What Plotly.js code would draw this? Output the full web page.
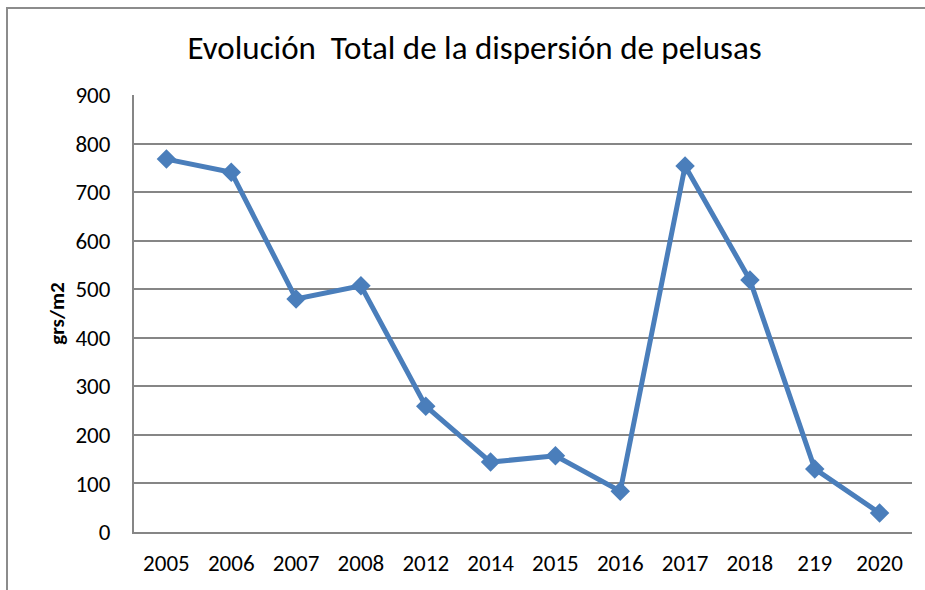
<!DOCTYPE html>
<html>
<head>
<meta charset="utf-8">
<script src="https://cdn.plot.ly/plotly-3.0.1.min.js"></script>
<style>
  html, body { margin: 0; padding: 0; background: #fff; overflow: hidden; }
  #wrap { position: relative; width: 925px; height: 590px; overflow: hidden; }
  #plotArea { width: 925px; height: 590px; }
  #frame { position: absolute; left: 6px; top: 7px; width: 919px; height: 583px;
           border-top: 2px solid #8c8c8c; border-left: 2px solid #8c8c8c;
           pointer-events: none; box-sizing: border-box; }
</style>
</head>
<body>
<div id="wrap">
  <div id="plotArea"></div>
  <div id="frame"></div>
</div>
<script>
// years as shown on the chart (the "219" label is in the original)
var years = ['2005', '2006', '2007', '2008', '2012', '2014', '2015', '2016', '2017', '2018', '219', '2020'];
var pelusas = [768, 741, 480, 507, 259, 144, 157, 84, 754, 519, 130, 39];
var yTicks = [0, 100, 200, 300, 400, 500, 600, 700, 800, 900];

var font = 'Calibri, Carlito, "Liberation Sans", Arial, sans-serif';

var trace = {
    x: years,
    y: pelusas,
    type: 'scatter',
    mode: 'lines+markers',
    line: {color: '#4a7ebb', width: 5},
    marker: {symbol: 'diamond', size: 15, color: '#4a7ebb'},
    hoverinfo: 'x+y'
};

var layout = {
    width: 925,
    height: 590,
    margin: {l: 134, r: 13, t: 95, b: 58},
    paper_bgcolor: 'rgba(0,0,0,0)',
    plot_bgcolor: '#fff',
    showlegend: false,
    font: {family: font, color: '#000'},
    title: {
        text: 'Evolución  Total de la dispersión de pelusas',
        font: {size: 33, family: font, color: '#000'},
        x: 0.513, xanchor: 'center',
        y: 0.92, yanchor: 'middle'
    },
    xaxis: {
        type: 'category',
        range: [-0.5, 11.5],
        showgrid: false,
        showline: true,
        linecolor: '#868686',
        linewidth: 2,
        ticks: '',
        ticklabelstandoff: 9,
        tickfont: {size: 23}
    },
    yaxis: {
        range: [0, 900],
        tickvals: yTicks,
        showgrid: true,
        gridcolor: '#868686',
        gridwidth: 2,
        showline: true,
        linecolor: '#868686',
        linewidth: 2,
        zeroline: false,
        ticks: '',
        ticklabelstandoff: 17,
        tickfont: {size: 23},
        title: {text: '<b>grs/m2</b>', font: {size: 21}, standoff: 5}
    }
};

Plotly.newPlot('plotArea', [trace], layout, {staticPlot: true});
</script>
</body>
</html>
